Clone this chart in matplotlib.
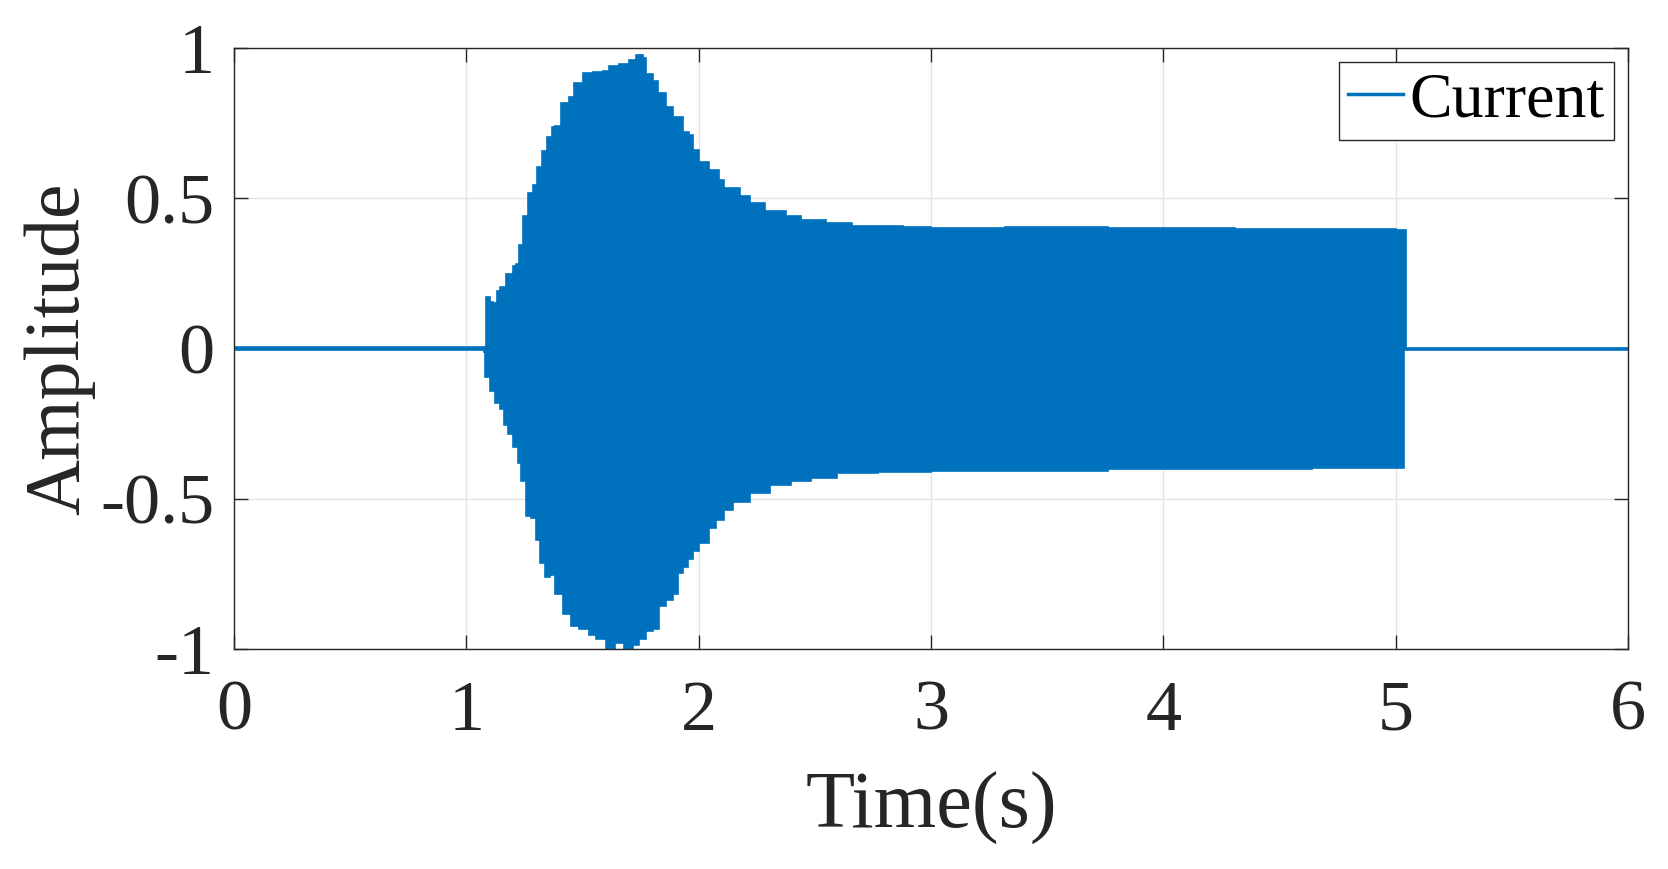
import numpy as np
import matplotlib
matplotlib.use("Agg")
import matplotlib.pyplot as plt
from matplotlib.lines import Line2D

plt.rcParams['font.family'] = ['Liberation Serif', 'DejaVu Serif']
plt.rcParams['axes.unicode_minus'] = False

# Upper envelope of the current signal (time in s, amplitude)
t_upper = [0.0, 1.08, 1.083, 1.1, 1.115, 1.13, 1.143, 1.172, 1.2, 1.215, 1.226, 1.246,
           1.265, 1.287, 1.304, 1.327, 1.347, 1.367, 1.38, 1.407, 1.444, 1.464, 1.504,
           1.544, 1.587, 1.616, 1.659, 1.702, 1.731, 1.759, 1.774, 1.802, 1.824, 1.86,
           1.888, 1.931, 1.96, 1.974, 2.003, 2.044, 2.088, 2.11, 2.176, 2.22, 2.286,
           2.374, 2.44, 2.55, 2.66, 2.88, 3.0, 3.32, 3.76, 4.0, 4.31, 4.64, 5.0, 5.044,
           5.046, 6.0]
a_upper = [0.004, 0.005, 0.17, 0.155, 0.15, 0.19, 0.204, 0.249, 0.275, 0.28, 0.343, 0.44,
           0.517, 0.544, 0.603, 0.657, 0.705, 0.737, 0.74, 0.816, 0.837, 0.884, 0.918,
           0.921, 0.925, 0.941, 0.948, 0.959, 0.977, 0.966, 0.912, 0.891, 0.85, 0.803,
           0.769, 0.721, 0.71, 0.66, 0.619, 0.593, 0.562, 0.535, 0.507, 0.485, 0.457,
           0.44, 0.429, 0.418, 0.409, 0.405, 0.402, 0.405, 0.402, 0.402, 0.396, 0.396,
           0.394, 0.395, 0.002, 0.002]

# Lower envelope of the current signal
t_lower = [0.0, 1.07, 1.075, 1.078, 1.079, 1.1, 1.122, 1.143, 1.16, 1.179, 1.2, 1.222,
           1.236, 1.258, 1.279, 1.298, 1.318, 1.337, 1.358, 1.38, 1.415, 1.451, 1.487,
           1.53, 1.559, 1.602, 1.638, 1.68, 1.716, 1.745, 1.774, 1.802, 1.831, 1.86,
           1.888, 1.91, 1.931, 1.953, 1.974, 2.003, 2.046, 2.074, 2.11, 2.146, 2.22,
           2.308, 2.396, 2.485, 2.595, 2.77, 3.0, 3.32, 3.76, 4.2, 4.64, 5.035, 5.037, 6.0]
a_lower = [-0.004, -0.004, -0.012, -0.012, -0.095, -0.143, -0.18, -0.201, -0.256, -0.286,
           -0.327, -0.381, -0.442, -0.558, -0.565, -0.637, -0.714, -0.762, -0.755, -0.816,
           -0.884, -0.925, -0.932, -0.952, -0.966, -1.007, -0.98, -1.007, -0.986, -0.966,
           -0.939, -0.932, -0.857, -0.837, -0.816, -0.748, -0.728, -0.7, -0.673, -0.646,
           -0.599, -0.571, -0.537, -0.51, -0.48, -0.453, -0.441, -0.43, -0.416, -0.412,
           -0.408, -0.408, -0.4, -0.4, -0.397, -0.394, -0.006, -0.006]

x_ticks = [0, 1, 2, 3, 4, 5, 6]
y_ticks = [-1, -0.5, 0, 0.5, 1]
y_tick_labels = ['-1', '-0.5', '0', '0.5', '1']

color = '#0072BD'
dark = '#262626'


def steps(t, a):
    # staircase outline (post-step) through the read envelope points
    t = np.asarray(t, float)
    a = np.asarray(a, float)
    tx = np.repeat(t, 2)[1:]
    ay = np.repeat(a, 2)[:-1]
    return tx, ay


fig = plt.figure(figsize=(16.68, 8.69), dpi=100)
ax = fig.add_axes([0.1403, 0.2532, 0.976 - 0.1403, 0.9448 - 0.2532])

ux, uy = steps(t_upper, a_upper)
lx, ly = steps(t_lower, a_lower)
poly_x = np.concatenate([ux, lx[::-1]])
poly_y = np.concatenate([uy, ly[::-1]])
ax.fill(poly_x, poly_y, facecolor=color, edgecolor=color, linewidth=1.2, zorder=2)

ax.set_xlim(0, 6)
ax.set_ylim(-1, 1)
ax.set_xticks(x_ticks)
ax.set_yticks(y_ticks)
ax.set_yticklabels(y_tick_labels)
ax.grid(True, color='#e3e3e3', linewidth=1.0)
ax.set_axisbelow(True)

for s in ax.spines.values():
    s.set_color(dark)
    s.set_linewidth(1.0)

ax.tick_params(direction='in', length=10, width=1.0, colors=dark,
               top=True, right=True, labelsize=52)
ax.tick_params(axis='x', pad=22)
ax.tick_params(axis='y', pad=14)

ax.set_xlabel('Time(s)', fontsize=58, color=dark)
ax.set_ylabel('Amplitude', fontsize=56, color=dark)
ax.xaxis.set_label_coords(0.5, -0.205)
ax.yaxis.set_label_coords(-0.0997, 0.5)

handle = Line2D([], [], color=color, linewidth=2.5)
leg = ax.legend([handle], ['Current'], loc='upper right', fontsize=46,
                frameon=True, fancybox=False, framealpha=1, edgecolor=dark,
                handlelength=0.85, handletextpad=0.1, borderpad=0.15,
                borderaxespad=0.22)
leg.get_frame().set_linewidth(1.0)
for txt in leg.get_texts():
    txt.set_color('black')

fig.savefig('out.png', dpi=100)
